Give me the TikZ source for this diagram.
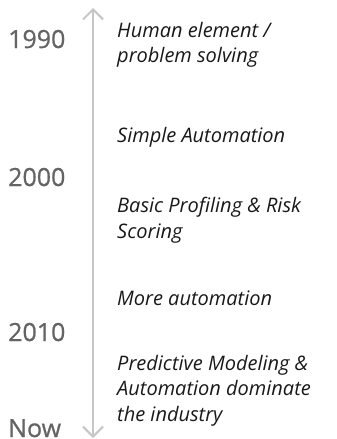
\documentclass[tikz,border=0pt]{standalone}
\usepackage{fontspec}
\setmainfont{Open Sans}
\newfontfamily\yearfont[FakeBold = 0.8]{Open Sans}
\usetikzlibrary{arrows.meta}

\definecolor{yeargray}{HTML}{646464}
\definecolor{linegray}{HTML}{C6C6C6}

\tikzset{
    year/.style = {anchor = base west, inner sep = 0, text = yeargray, font = \yearfont\fontsize{25}{28}\selectfont},
    event/.style = {anchor = north west, inner sep = 0, align = left, text = black!90, font = \fontsize{20}{25.5}\selectfont\itshape}
}

\begin{document}
\begin{tikzpicture}[x = 1pt, y = -1pt]
    \useasboundingbox (0,0) rectangle (337,439);

    \coordinate (top) at (93,8);
    \coordinate (bottom) at (93,438);
    \draw[{Straight Barb[length = 10pt, width = 20pt]}-{Straight Barb[length = 10pt, width = 20pt]}, line width = 2pt, draw = linegray] (bottom) -- (top);

    \node[year] (y1990) at (8,48) {1990};
    \node[year] (y2000) at (8,186) {2000};
    \node[year] (y2010) at (8,341) {2010};
    \node[year] (ynow) at (8,437) {Now};

    \node[event] (human) at (117,22) {Human element /\\problem solving};
    \node[event] (simple) at (117,127) {Simple Automation};
    \node[event] (basic) at (117,197) {Basic Profiling \& Risk\\Scoring};
    \node[event] (more) at (117,291) {More automation};
    \node[event] (predictive) at (117,355) {Predictive Modeling \&\\Automation dominate\\the industry};
\end{tikzpicture}
\end{document}
